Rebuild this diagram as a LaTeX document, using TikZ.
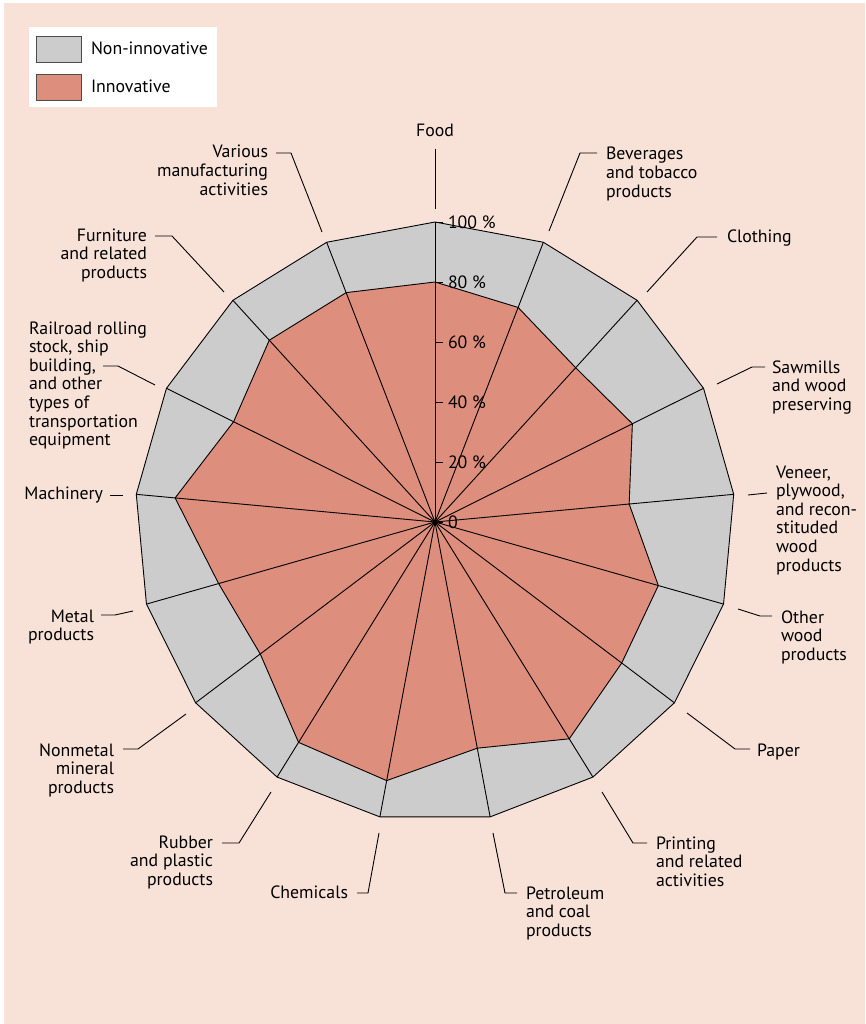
\documentclass[tikz,border=0pt]{standalone}
\usepackage{fontspec}
\setmainfont{PT Sans}
\usetikzlibrary{calc}
\definecolor{bgpink}{RGB}{248,226,216}
\definecolor{nongrey}{RGB}{204,204,204}
\definecolor{innov}{RGB}{222,142,124}
\newcommand{\mylbl}[2]{\begin{tabular}[t]{@{}#1@{}}#2\end{tabular}}
\begin{document}
\begin{tikzpicture}[x=1pt,y=-1pt,
  every node/.style={inner sep=0pt,outer sep=0pt,font=\fontsize{17.8}{18.6}\selectfont},
  chartline/.style={line width=0.9pt,black},
  leader/.style={line width=0.9pt,black},
  lblL/.style={anchor=base west},
  lblR/.style={anchor=base east},
  swatch/.style={draw=black!70,line width=0.9pt}]
\useasboundingbox (0,0) rectangle (865,1024);
\fill[white] (0,0) rectangle (865,1024);
\fill[bgpink] (4,3) rectangle (865,1024);
% legend
\fill[white] (29,27) rectangle (217,107);
\draw[swatch,fill=nongrey] (36,36) rectangle (81,62);
\draw[swatch,fill=innov] (36,74) rectangle (81,100);
\node[lblL] (legnon) at (91,55) {Non-innovative};
\node[lblL] (leginn) at (91,93) {Innovative};
% chart
\coordinate (C) at (435,522);
\foreach \i/\v in {0/0.80,1/0.767,2/0.696,3/0.735,4/0.65,5/0.774,6/0.78,7/0.85,8/0.767,9/0.877,10/0.864,11/0.73,12/0.75,13/0.87,14/0.75,15/0.82,16/0.82}{
  \coordinate (o\i) at ($(C)+({-90+\i*360/17}:300)$);
  \coordinate (n\i) at ($(C)+({-90+\i*360/17}:{300*\v})$);
}
\draw[chartline,fill=nongrey] (o0)--(o1)--(o2)--(o3)--(o4)--(o5)--(o6)--(o7)--(o8)--(o9)--(o10)--(o11)--(o12)--(o13)--(o14)--(o15)--(o16)--cycle;
\draw[chartline,fill=innov] (n0)--(n1)--(n2)--(n3)--(n4)--(n5)--(n6)--(n7)--(n8)--(n9)--(n10)--(n11)--(n12)--(n13)--(n14)--(n15)--(n16)--cycle;
\foreach \i in {0,...,16}{\draw[chartline] (C) -- (o\i);}
\fill (C) circle (2.5);
% axis ticks
\foreach \p/\t in {0/0,20/20 \%,40/40 \%,60/60 \%,80/80 \%,100/100 \%}{
  \draw[chartline] ($(C)+(0,-3*\p)$) coordinate (tk\p) -- ++(8,0);
  \node[anchor=west] (tl\p) at ($(tk\p)+(13,0)$) {\t};
}
% labels
\node[anchor=base] (food) at (435,137) {Food};
\coordinate (fa) at (435,149); \coordinate (fb) at (435,209);
\draw[leader] (fa) -- (fb);

\node[lblL] (bev) at (606,160) {\mylbl{l}{Beverages\\and tobacco\\products}};
\coordinate (b1) at (549,231); \coordinate (b2) at (580,153); \coordinate (b3) at (597,153);
\draw[leader] (b1)--(b2)--(b3);

\node[lblL] (clo) at (727,242) {Clothing};
\coordinate (c1) at (647,292); \coordinate (c2) at (697,237); \coordinate (c3) at (717,237);
\draw[leader] (c1)--(c2)--(c3);

\node[lblL] (saw) at (772,373) {\mylbl{l}{Sawmills\\and wood\\preserving}};
\coordinate (s1) at (717,384); \coordinate (s2) at (752,367); \coordinate (s3) at (765,367);
\draw[leader] (s1)--(s2)--(s3);

\node[lblL] (ven) at (776,478) {\mylbl{l}{Veneer,\\plywood,\\and recon-\\stituded\\wood\\products}};
\coordinate (v1) at (748,495); \coordinate (v2) at (767,493);
\draw[leader] (v1)--(v2);

\node[lblL] (oth) at (781,623) {\mylbl{l}{Other\\wood\\products}};
\coordinate (w1) at (738,609); \coordinate (w2) at (760,616); \coordinate (w3) at (772,616);
\draw[leader] (w1)--(w2)--(w3);

\node[lblL] (pap) at (757,756) {Paper};
\coordinate (p1) at (687,713); \coordinate (p2) at (735,749); \coordinate (p3) at (750,749);
\draw[leader] (p1)--(p2)--(p3);

\node[lblL] (pri) at (656,849) {\mylbl{l}{Printing\\and related\\activities}};
\coordinate (r1) at (602,792); \coordinate (r2) at (633,843); \coordinate (r3) at (647,843);
\draw[leader] (r1)--(r2)--(r3);

\node[lblL] (pet) at (526,899) {\mylbl{l}{Petroleum\\and coal\\products}};
\coordinate (e1) at (493,833); \coordinate (e2) at (505,893); \coordinate (e3) at (517,893);
\draw[leader] (e1)--(e2)--(e3);

\node[lblR] (che) at (348,898) {Chemicals};
\coordinate (h1) at (379,833); \coordinate (h2) at (368,893); \coordinate (h3) at (357,893);
\draw[leader] (h1)--(h2)--(h3);

\node[lblR] (rub) at (213,848) {\mylbl{r}{Rubber\\and plastic\\products}};
\coordinate (u1) at (271,792); \coordinate (u2) at (239,843); \coordinate (u3) at (222,843);
\draw[leader] (u1)--(u2)--(u3);

\node[lblR] (nme) at (114,756) {\mylbl{r}{Nonmetal\\mineral\\products}};
\coordinate (m1) at (186,714); \coordinate (m2) at (138,749); \coordinate (m3) at (123,749);
\draw[leader] (m1)--(m2)--(m3);

\node[lblR] (met) at (94,622) {\mylbl{r}{Metal\\products}};
\coordinate (t1) at (133,611); \coordinate (t2) at (115,615); \coordinate (t3) at (101,615);
\draw[leader] (t1)--(t2)--(t3);

\node[lblR] (mac) at (103,499) {Machinery};
\coordinate (a1) at (123,495); \coordinate (a2) at (110,495);
\draw[leader] (a1)--(a2);

\node[lblL] (rai) at (29,334) {\mylbl{l}{Railroad rolling\\stock, ship\\building,\\and other\\types of\\transportation\\equipment}};
\coordinate (l1) at (155,385); \coordinate (l2) at (118,366); \coordinate (l3) at (103,366);
\draw[leader] (l1)--(l2)--(l3);

\node[lblR] (fur) at (147,241) {\mylbl{r}{Furniture\\and related\\products}};
\coordinate (f1) at (224,292); \coordinate (f2) at (172,236); \coordinate (f3) at (155,236);
\draw[leader] (f1)--(f2)--(f3);

\node[lblR] (var) at (268,158) {\mylbl{r}{Various\\manufacturing\\activities}};
\coordinate (q1) at (322,232); \coordinate (q2) at (291,153); \coordinate (q3) at (276,153);
\draw[leader] (q1)--(q2)--(q3);
\end{tikzpicture}
\end{document}
